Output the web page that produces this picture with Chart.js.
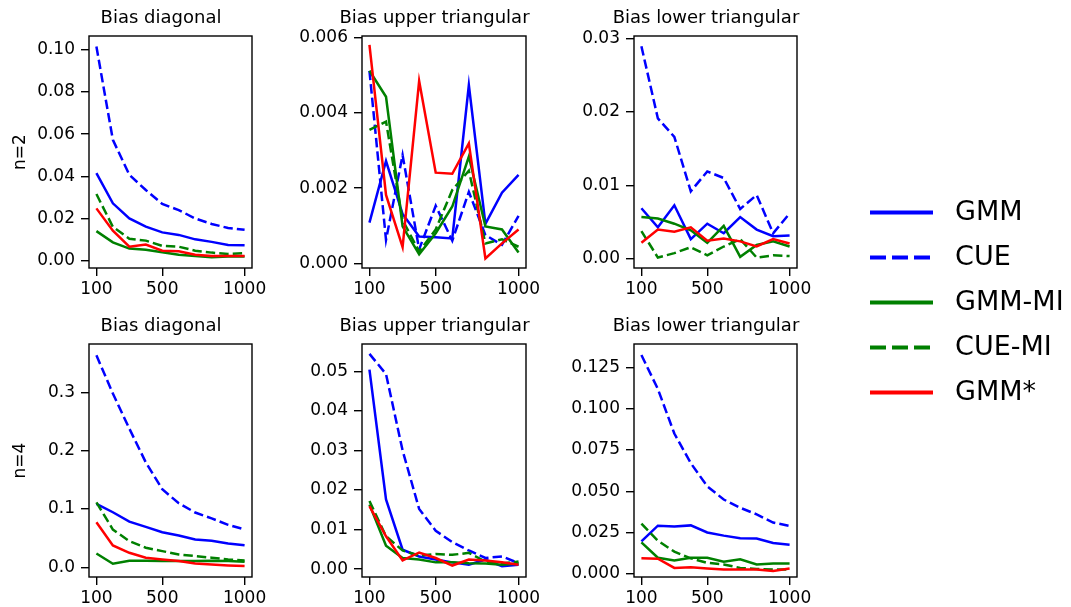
<!DOCTYPE html>
<html>
<head>
<meta charset="utf-8">
<script src="https://cdn.jsdelivr.net/npm/chart.js@4/dist/chart.umd.min.js"></script>
<style>
html,body{margin:0;padding:0;background:#fff;overflow:hidden;width:1071px;height:607px;}
.panel{position:absolute;}
canvas{display:block;}
</style>
</head>
<body>
<script>
// ---------------- DATA ----------------
const sampleSizes = [100, 200, 300, 400, 500, 600, 700, 800, 900, 1000];
const xTickValues = [100, 500, 1000];
const seriesNames = ['GMM', 'CUE', 'GMM-MI', 'CUE-MI', 'GMM*'];
const panelTitles = ['Bias diagonal', 'Bias upper triangular', 'Bias lower triangular'];
const rowLabels = ['n=2', 'n=4'];

// n = 2, bias diagonal
const n2DiagGMM   = [0.0415, 0.0272, 0.0200, 0.0161, 0.0134, 0.0122, 0.0101, 0.0089, 0.0074, 0.0073];
const n2DiagCUE   = [0.1016, 0.0573, 0.0407, 0.0335, 0.0269, 0.0240, 0.0200, 0.0174, 0.0155, 0.0146];
const n2DiagGMMMI = [0.0140, 0.0087, 0.0057, 0.0052, 0.0040, 0.0028, 0.0022, 0.0016, 0.0019, 0.0019];
const n2DiagCUEMI = [0.0316, 0.0160, 0.0104, 0.0095, 0.0070, 0.0066, 0.0047, 0.0038, 0.0032, 0.0035];
const n2DiagGMMs  = [0.0248, 0.0142, 0.0066, 0.0076, 0.0047, 0.0044, 0.0028, 0.0022, 0.0022, 0.0022];

// n = 2, bias upper triangular
const n2UpperGMM   = [0.00108, 0.00272, 0.00131, 0.00071, 0.00069, 0.00066, 0.00474, 0.00105, 0.00188, 0.00235];
const n2UpperCUE   = [0.00512, 0.00062, 0.00288, 0.00037, 0.00153, 0.00060, 0.00190, 0.00075, 0.00049, 0.00126];
const n2UpperGMMMI = [0.00512, 0.00443, 0.00098, 0.00024, 0.00080, 0.00151, 0.00284, 0.00098, 0.00090, 0.00029];
const n2UpperCUEMI = [0.00355, 0.00377, 0.00115, 0.00031, 0.00090, 0.00195, 0.00246, 0.00053, 0.00064, 0.00044];
const n2UpperGMMs  = [0.00581, 0.00182, 0.00043, 0.00485, 0.00241, 0.00238, 0.00319, 0.00013, 0.00053, 0.00090];

// n = 2, bias lower triangular
const n2LowerGMM   = [0.0069, 0.0043, 0.0073, 0.0027, 0.0048, 0.0035, 0.0057, 0.0040, 0.0031, 0.0032];
const n2LowerCUE   = [0.0289, 0.0191, 0.0166, 0.0092, 0.0119, 0.0110, 0.0068, 0.0087, 0.0035, 0.0062];
const n2LowerGMMMI = [0.0057, 0.0055, 0.0048, 0.0039, 0.0022, 0.0045, 0.0003, 0.0019, 0.0024, 0.0017];
const n2LowerCUEMI = [0.0038, 0.0002, 0.0008, 0.0016, 0.0005, 0.0017, 0.0027, 0.0002, 0.0005, 0.0004];
const n2LowerGMMs  = [0.0022, 0.0040, 0.0037, 0.0043, 0.0025, 0.0028, 0.0024, 0.0017, 0.0027, 0.0021];

// n = 4, bias diagonal
const n4DiagGMM   = [0.109, 0.0945, 0.0785, 0.0694, 0.0603, 0.0546, 0.0478, 0.0455, 0.0410, 0.0381];
const n4DiagCUE   = [0.3637, 0.298, 0.238, 0.180, 0.134, 0.110, 0.094, 0.084, 0.073, 0.065];
const n4DiagGMMMI = [0.0239, 0.0063, 0.0114, 0.0114, 0.0108, 0.0108, 0.0108, 0.0114, 0.0108, 0.0097];
const n4DiagCUEMI = [0.1115, 0.0649, 0.0450, 0.0336, 0.0279, 0.0222, 0.0194, 0.0165, 0.0137, 0.0120];
const n4DiagGMMs  = [0.0774, 0.0376, 0.0250, 0.0165, 0.0137, 0.0108, 0.0068, 0.0051, 0.0034, 0.0023];

// n = 4, bias upper triangular
const n4UpperGMM   = [0.0504, 0.0176, 0.0049, 0.0032, 0.0024, 0.0017, 0.0011, 0.0024, 0.0007, 0.0011];
const n4UpperCUE   = [0.0544, 0.0493, 0.0300, 0.0152, 0.0097, 0.0068, 0.0047, 0.0028, 0.0032, 0.0015];
const n4UpperGMMMI = [0.0163, 0.0059, 0.0028, 0.0024, 0.0017, 0.0017, 0.0015, 0.0014, 0.0011, 0.0014];
const n4UpperCUEMI = [0.0172, 0.0083, 0.0047, 0.0034, 0.0038, 0.0036, 0.0041, 0.0019, 0.0014, 0.0019];
const n4UpperGMMs  = [0.0159, 0.0083, 0.0022, 0.0042, 0.0028, 0.0009, 0.0024, 0.0022, 0.0017, 0.0011];

// n = 4, bias lower triangular
const n4LowerGMM   = [0.0196, 0.0291, 0.0287, 0.0293, 0.0250, 0.0231, 0.0215, 0.0213, 0.0186, 0.0176];
const n4LowerCUE   = [0.1326, 0.112, 0.085, 0.067, 0.053, 0.045, 0.040, 0.036, 0.031, 0.029];
const n4LowerGMMMI = [0.0190, 0.0097, 0.0080, 0.0097, 0.0097, 0.0072, 0.0087, 0.0056, 0.0062, 0.0062];
const n4LowerCUEMI = [0.0304, 0.0200, 0.0134, 0.0093, 0.0066, 0.0056, 0.0035, 0.0029, 0.0025, 0.0025];
const n4LowerGMMs  = [0.0093, 0.0091, 0.0035, 0.0039, 0.0031, 0.0025, 0.0025, 0.0025, 0.0017, 0.0031];

// y tick values per panel
const n2DiagTicks  = [0, 0.02, 0.04, 0.06, 0.08, 0.10];
const n2UpperTicks = [0, 0.002, 0.004, 0.006];
const n2LowerTicks = [0, 0.01, 0.02, 0.03];
const n4DiagTicks  = [0, 0.1, 0.2, 0.3];
const n4UpperTicks = [0, 0.01, 0.02, 0.03, 0.04, 0.05];
const n4LowerTicks = [0, 0.025, 0.05, 0.075, 0.1, 0.125];

// ---------------- STYLE / LAYOUT ----------------
const FONT = 'DejaVu Sans';
const seriesColors = ['#0000ff', '#0000ff', '#008000', '#008000', '#ff0000'];
const seriesDashed = [false, true, false, true, false];
const seriesOrder = [5, 4, 3, 2, 1];
const colLeft = [89, 362, 634], colWidth = [163, 164, 163];
const rowTop = [36, 344], rowHeight = [232, 233];
const Y_AXIS_W = 88, RIGHT_PAD = 69, TITLE_H = 29, X_AXIS_H = 30;

const panels = [
  {row: 0, col: 0, series: [n2DiagGMM, n2DiagCUE, n2DiagGMMMI, n2DiagCUEMI, n2DiagGMMs], ticks: n2DiagTicks, dec: 2, min: -0.0035, max: 0.1066},
  {row: 0, col: 1, series: [n2UpperGMM, n2UpperCUE, n2UpperGMMMI, n2UpperCUEMI, n2UpperGMMs], ticks: n2UpperTicks, dec: 3, min: -0.000125, max: 0.006045},
  {row: 0, col: 2, series: [n2LowerGMM, n2LowerCUE, n2LowerGMMMI, n2LowerCUEMI, n2LowerGMMs], ticks: n2LowerTicks, dec: 2, min: -0.00122, max: 0.0303},
  {row: 1, col: 0, series: [n4DiagGMM, n4DiagCUE, n4DiagGMMMI, n4DiagCUEMI, n4DiagGMMs], ticks: n4DiagTicks, dec: 1, min: -0.0165, max: 0.383},
  {row: 1, col: 1, series: [n4UpperGMM, n4UpperCUE, n4UpperGMMMI, n4UpperCUEMI, n4UpperGMMs], ticks: n4UpperTicks, dec: 2, min: -0.002, max: 0.0569},
  {row: 1, col: 2, series: [n4LowerGMM, n4LowerCUE, n4LowerGMMMI, n4LowerCUEMI, n4LowerGMMs], ticks: n4LowerTicks, dec: 3, min: -0.002, max: 0.1393}
];

Chart.defaults.font.family = FONT;
Chart.defaults.color = '#000';

const framePlugin = {
  id: 'axesFrame',
  afterDatasetsDraw(chart) {
    const {ctx, chartArea: a} = chart;
    ctx.save();
    ctx.strokeStyle = '#000';
    ctx.lineWidth = 1.4;
    ctx.strokeRect(a.left, a.top, a.right - a.left, a.bottom - a.top);
    ctx.restore();
  }
};

function makeCanvas(left, top, width, height) {
  const div = document.createElement('div');
  div.className = 'panel';
  div.style.left = left + 'px';
  div.style.top = top + 'px';
  div.style.width = width + 'px';
  div.style.height = height + 'px';
  const cv = document.createElement('canvas');
  cv.width = width; cv.height = height;
  cv.style.width = width + 'px'; cv.style.height = height + 'px';
  div.appendChild(cv);
  document.body.appendChild(div);
  return cv;
}

panels.forEach(p => {
  const left = colLeft[p.col] - Y_AXIS_W;
  const top = rowTop[p.row] - TITLE_H;
  const width = Y_AXIS_W + colWidth[p.col] + RIGHT_PAD;
  const height = TITLE_H + rowHeight[p.row] + X_AXIS_H;
  const cv = makeCanvas(left, top, width, height);

  const datasets = p.series.map((vals, i) => ({
    label: seriesNames[i],
    data: vals.map((v, k) => ({x: sampleSizes[k], y: v})),
    borderColor: seriesColors[i],
    backgroundColor: seriesColors[i],
    borderWidth: 2.5,
    borderDash: seriesDashed[i] ? [9.4, 4.1] : [],
    pointRadius: 0,
    tension: 0,
    fill: false,
    order: seriesOrder[i]
  }));

  new Chart(cv, {
    type: 'line',
    data: {datasets},
    plugins: [framePlugin],
    options: {
      responsive: false,
      animation: false,
      events: [],
      layout: {padding: 0},
      plugins: {
        legend: {display: false},
        tooltip: {enabled: false},
        title: {
          display: true,
          text: panelTitles[p.col],
          color: '#000',
          font: {family: FONT, size: 18, weight: 'normal', lineHeight: '22px'},
          padding: {top: 0, bottom: 7}
        }
      },
      scales: {
        x: {
          type: 'linear',
          min: 55, max: 1045,
          afterBuildTicks: s => { s.ticks = xTickValues.map(v => ({value: v})); },
          afterFit: s => { s.height = X_AXIS_H; s.paddingRight = RIGHT_PAD; s.paddingLeft = 0; },
          ticks: {autoSkip: false, maxRotation: 0, padding: 3, color: '#000',
                  font: {family: FONT, size: 17}, callback: v => String(v)},
          grid: {display: true, drawOnChartArea: false, drawTicks: true, tickLength: 8,
                 color: '#000', lineWidth: 1.4},
          border: {display: false}
        },
        y: {
          type: 'linear',
          min: p.min, max: p.max,
          afterBuildTicks: s => { s.ticks = p.ticks.map(v => ({value: v})); },
          afterFit: s => { s.width = Y_AXIS_W; },
          ticks: {autoSkip: false, padding: 6, color: '#000',
                  font: {family: FONT, size: 17}, callback: v => Number(v).toFixed(p.dec)},
          grid: {display: true, drawOnChartArea: false, drawTicks: true, tickLength: 8,
                 color: '#000', lineWidth: 1.4},
          border: {display: false},
          title: {
            display: p.col === 0,
            text: rowLabels[p.row],
            color: '#000',
            font: {family: FONT, size: 17},
            padding: {top: 9, bottom: 0}
          }
        }
      }
    }
  });
});

// ---------------- LEGEND ----------------
const legendCanvas = makeCanvas(852, 181, 219, 260);
new Chart(legendCanvas, {
  type: 'line',
  data: {
    datasets: seriesNames.map((name, i) => ({
      label: name,
      data: [],
      borderColor: seriesColors[i],
      backgroundColor: 'rgba(0,0,0,0)',
      borderWidth: 4,
      borderDash: seriesDashed[i] ? [16, 6] : []
    }))
  },
  options: {
    responsive: false,
    animation: false,
    events: [],
    layout: {padding: 0},
    scales: {x: {display: false}, y: {display: false}},
    plugins: {
      tooltip: {enabled: false},
      legend: {
        display: true,
        position: 'left',
        align: 'start',
        maxWidth: 400,
        labels: {
          boxWidth: 63,
          boxHeight: 0,
          padding: 18,
          color: '#1a1a1a',
          font: {family: FONT, size: 27},
          generateLabels: chart => chart.data.datasets.map((ds, i) => ({
            text: ' ' + ds.label,
            fillStyle: 'rgba(0,0,0,0)',
            strokeStyle: ds.borderColor,
            lineWidth: ds.borderWidth,
            lineDash: ds.borderDash,
            lineCap: 'butt',
            hidden: false,
            datasetIndex: i
          }))
        }
      }
    }
  }
});
</script>
</body>
</html>
